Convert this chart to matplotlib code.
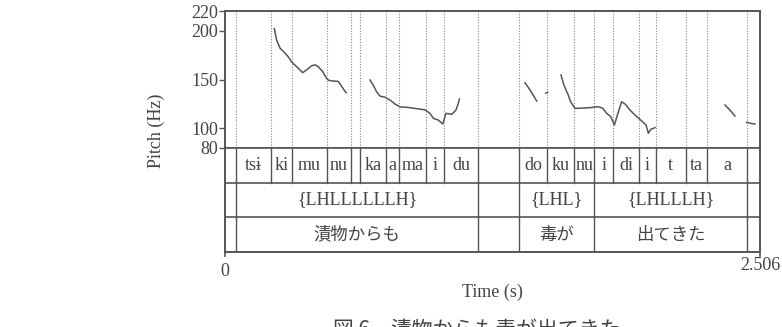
"""Praat-style pitch track with three annotation tiers (syllable / tone / word)."""
import numpy as np
import matplotlib
matplotlib.use("Agg")
import matplotlib.pyplot as plt

SERIF = ["Liberation Serif", "DejaVu Serif"]
JP = ["Noto Sans CJK JP", "DejaVu Sans"]
INK = "#444444"
LINE = "#555555"
FS = 13

T_END = 2.506
Y_MIN, Y_MAX = 80, 220
Y_TICKS = [80, 100, 150, 200, 220]

# syllable tier
syl_bounds = [0.052, 0.214, 0.312, 0.479, 0.589, 0.632, 0.754, 0.816, 0.941, 1.026,
              1.186, 1.378, 1.507, 1.635, 1.730, 1.819, 1.939, 2.017, 2.159, 2.256, 2.446]
syl_labels = ["tsɨ", "ki", "mu", "nu", "", "ka", "a", "ma", "i", "du",
              "", "do", "ku", "nu", "i", "di", "i", "t", "ta", "a"]
# tone tier / word tier share boundaries
word_bounds = [0.052, 1.186, 1.378, 1.730, 2.446]
tone_labels = ["{LHLLLLLLH}", "", "{LHL}", "{LHLLLH}"]
word_labels = ["漬物からも", "", "毒が", "出てきた"]

# pitch contour pieces (time s, Hz)
pitch_segs = [
    ([0.231, 0.242, 0.258, 0.281, 0.297, 0.312, 0.336, 0.364, 0.383, 0.406, 0.422,
      0.437, 0.458, 0.476, 0.487, 0.507, 0.531, 0.546, 0.567],
     [202, 190, 182, 177, 173, 168, 163, 157, 160, 164, 165,
      163, 158, 151, 149, 148.5, 148, 143, 136.5]),
    ([0.679, 0.695, 0.710, 0.726, 0.749, 0.773, 0.796, 0.820, 0.851, 0.898, 0.937,
      0.960, 0.976, 0.999, 1.020, 1.035, 1.062, 1.082, 1.093, 1.098],
     [149.5, 144, 137.5, 133, 132, 129, 125, 122, 121.6, 120.2, 119,
      115.4, 110.3, 108.6, 104.5, 115.4, 114.4, 118.8, 125.7, 130]),
    ([1.405, 1.429, 1.460], [146.7, 139.3, 128]),
    ([1.502, 1.512], [136, 137]),
    ([1.574, 1.585, 1.597, 1.608, 1.619, 1.639, 1.663, 1.710, 1.749, 1.769, 1.788,
      1.807, 1.824, 1.838, 1.858, 1.874, 1.897, 1.920, 1.952, 1.972, 1.983, 1.994, 2.014],
     [154.6, 146, 139.3, 134, 127.3, 120.6, 120.6, 121.2, 122.2, 120.6, 115.4,
      112, 103.5, 113.8, 127.3, 125, 118.8, 113.8, 107.6, 103.5, 95, 99, 100.8]),
    ([2.342, 2.365, 2.389], [124, 118.8, 112.7]),
    ([2.443, 2.462, 2.482], [106.2, 105.2, 104.5]),
]

W, H = 782, 327
fig = plt.figure(figsize=(W / 100, H / 100), dpi=100)

def fx(px):
    return px / W

def fy(py):
    return 1 - py / H

L, R, TOP, MID, BOT = 225, 760, 11, 148, 252
ax = fig.add_axes([fx(L), fy(MID), fx(R - L), fy(TOP) - fy(MID)])
tg = fig.add_axes([fx(L), fy(BOT), fx(R - L), fy(MID) - fy(BOT)])

all_bounds = sorted(set(syl_bounds + word_bounds))
for b in all_bounds:
    ax.axvline(b, color="#888888", lw=0.8, ls=(0, (1, 1.5)))

for t, f in pitch_segs:
    ax.plot(t, f, color=LINE, lw=1.1)

ax.set_xlim(0, T_END)
ax.set_ylim(Y_MIN, Y_MAX)
ax.set_yticks(Y_TICKS)
ax.set_yticklabels([str(v) for v in Y_TICKS], fontfamily=SERIF, fontsize=FS, color=INK)
ax.tick_params(axis="y", length=4, width=1, color=LINE, pad=1)
ax.set_xticks([])

# tier area
tg.set_xlim(0, T_END)
tg.set_ylim(0, 3)
tg.set_xticks([])
tg.set_yticks([])
for yy in (1, 2):
    tg.axhline(yy, color=LINE, lw=1.2)

def draw_tier(bounds, labels, row, family, size):
    y0 = 2 - row
    edges = bounds + [T_END]
    for b in bounds:
        tg.plot([b, b], [y0, y0 + 1], color=LINE, lw=1)
    for i, lab in enumerate(labels):
        if lab:
            tg.text((edges[i] + edges[i + 1]) / 2, y0 + 0.5, lab, ha="center", va="center",
                    fontfamily=family, fontsize=size, color=INK)

draw_tier(syl_bounds, syl_labels, 0, SERIF, FS)
draw_tier(word_bounds, tone_labels, 1, SERIF, FS)
draw_tier(word_bounds, word_labels, 2, JP, 12.5)

for a in (ax, tg):
    for s in a.spines.values():
        s.set_color(LINE)
        s.set_linewidth(1.4)
ax.spines["bottom"].set_linewidth(1.2)
tg.spines["top"].set_linewidth(1.2)

# bottom ticks at 0 and end
for xx in (0, T_END):
    tg.plot([xx, xx], [0, -0.12], color=LINE, lw=1.2, clip_on=False)

fig.text(fx(L), fy(271), "0", ha="center", va="center", fontfamily=SERIF, fontsize=FS, color=INK)
fig.text(fx(R), fy(266), "2.506", ha="center", va="center", fontfamily=SERIF, fontsize=FS, color=INK)
fig.text(fx((L + R) / 2), fy(292), "Time (s)", ha="center", va="center",
         fontfamily=SERIF, fontsize=FS, color=INK)
fig.text(fx(156), fy((TOP + BOT) / 2 - 1), "Pitch (Hz)", ha="center", va="center", rotation=90,
         fontfamily=SERIF, fontsize=FS, color=INK)
fig.text(fx(333), fy(319), "図 6　漬物からも毒が出てきた", ha="left", va="top",
         fontfamily=JP, fontsize=15, color=INK)

fig.savefig("out.png", dpi=100)
